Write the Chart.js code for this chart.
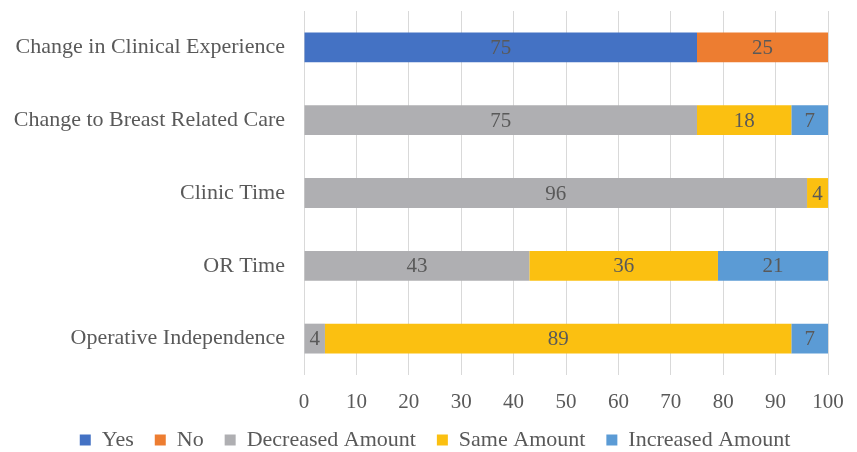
<!DOCTYPE html>
<html>
<head>
<meta charset="utf-8">
<script src="https://cdn.jsdelivr.net/npm/chart.js@4"></script>
<style>
  html, body { margin: 0; padding: 0; background: #fff; }
  #wrap { width: 857px; height: 452px; position: relative; }
</style>
</head>
<body>
<div id="wrap"><canvas id="chart"></canvas></div>
<script>
// Categories (top to bottom)
const categories = [
  'Change in Clinical Experience',
  'Change to Breast Related Care',
  'Clinic Time',
  'OR Time',
  'Operative Independence'
];

// Series values (percent)
const yesValues       = [75, null, null, null, null];
const noValues        = [25, null, null, null, null];
const decreasedValues = [null, 75, 96, 43, 4];
const sameValues      = [null, 18, 4, 36, 89];
const increasedValues = [null, 7, null, 21, 7];

const xTicks = [0, 10, 20, 30, 40, 50, 60, 70, 80, 90, 100];

const FONT = 'Liberation Serif, Times New Roman, serif';
const TEXT = '#595959';

// Draw the value inside each bar segment
const barLabels = {
  id: 'barLabels',
  afterDatasetsDraw(chart) {
    const ctx = chart.ctx;
    ctx.save();
    ctx.font = '21px ' + FONT;
    ctx.fillStyle = TEXT;
    ctx.textAlign = 'center';
    ctx.textBaseline = 'middle';
    chart.data.datasets.forEach((ds, i) => {
      const meta = chart.getDatasetMeta(i);
      meta.data.forEach((bar, j) => {
        const v = ds.data[j];
        if (v == null) return;
        const p = bar.getProps(['x', 'y', 'base'], true);
        ctx.fillText(String(v), (p.x + p.base) / 2, p.y + 1);
      });
    });
    ctx.restore();
  }
};

// Fixed legend height, and shift it a little (labels.padding also sets item spacing)
const legendFit = {
  id: 'legendFit',
  beforeLayout(chart) {
    const lg = chart.legend;
    if (lg && !lg._fixed) {
      const fit = lg.fit;
      lg.fit = function() {
        fit.call(this);
        this.height = 37;
      };
      const draw = lg.draw;
      lg.draw = function() {
        this.top -= 7;
        this.left += 21;
        this.right += 21;
        draw.call(this);
        this.top += 7;
        this.left -= 21;
        this.right -= 21;
      };
      lg._fixed = true;
    }
  }
};

new Chart(document.getElementById('chart'), {
  type: 'bar',
  data: {
    labels: categories,
    datasets: [
      { label: 'Yes', data: yesValues, backgroundColor: '#4472C4' },
      { label: 'No', data: noValues, backgroundColor: '#ED7D31' },
      { label: 'Decreased Amount', data: decreasedValues, backgroundColor: '#AFAFB2' },
      { label: 'Same Amount', data: sameValues, backgroundColor: '#FBC011' },
      { label: 'Increased Amount', data: increasedValues, backgroundColor: '#5B9BD5' }
    ]
  },
  options: {
    indexAxis: 'y',
    responsive: true,
    maintainAspectRatio: false,
    animation: false,
    barPercentage: 0.41,
    categoryPercentage: 1,
    layout: { padding: { top: 11, right: 29, bottom: 0, left: 0 } },
    plugins: {
      tooltip: { enabled: false },
      legend: {
        position: 'bottom',
        labels: {
          color: TEXT,
          boxWidth: 11,
          boxHeight: 11,
          padding: 21,
          font: { family: FONT, size: 22 }
        }
      }
    },
    scales: {
      x: {
        stacked: true,
        min: 0,
        max: 100,
        afterBuildTicks(scale) {
          scale.ticks = xTicks.map(v => ({ value: v }));
        },
        afterFit(scale) {
          scale.height = 40;
          scale.paddingLeft = 0;
          scale.paddingRight = 0;
        },
        grid: { color: '#D9D9D9', lineWidth: 1, drawTicks: false },
        border: { display: false },
        ticks: {
          color: TEXT,
          padding: 15,
          font: { family: FONT, size: 21 }
        }
      },
      y: {
        stacked: true,
        afterFit(scale) {
          scale.width = 304;
          scale.paddingTop = 0;
          scale.paddingBottom = 0;
        },
        grid: { display: false, drawTicks: false },
        border: { display: false },
        ticks: {
          color: TEXT,
          padding: 19,
          font: { family: FONT, size: 22 }
        }
      }
    }
  },
  plugins: [barLabels, legendFit]
});
</script>
</body>
</html>
